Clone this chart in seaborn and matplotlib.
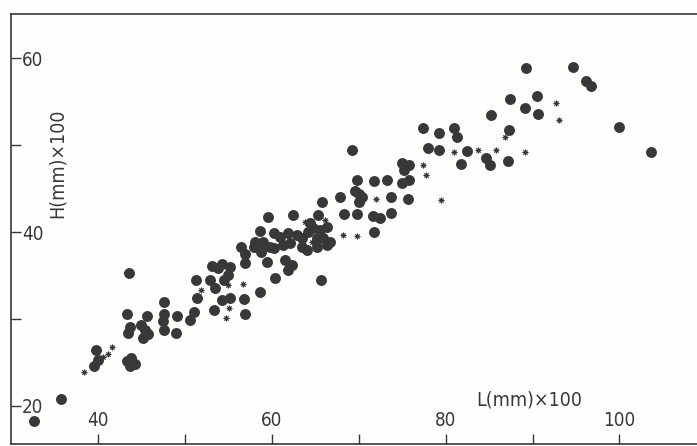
import matplotlib
matplotlib.use("Agg")
import matplotlib.pyplot as plt
import seaborn as sns
import pandas as pd

# Shell length L and height H (both in mm x 100), large filled dots
L_dot = [32.6, 35.7, 39.8, 40.0, 39.5, 43.4, 43.8, 44.3, 43.7, 43.6,
         43.3, 43.7, 43.5, 44.9, 45.7, 45.4, 45.8, 45.2, 47.6, 47.6,
         47.5, 47.6, 49.1, 49.0, 50.6, 51.1, 51.3, 51.4, 52.9, 53.1,
         53.5, 53.3, 54.3, 53.8, 55.2, 54.5, 55.0, 54.3, 55.2, 56.5,
         56.9, 56.9, 56.8, 56.9, 57.9, 58.8, 59.0, 59.8, 59.5, 58.7,
         60.4, 58.7, 59.6, 60.2, 61.0, 61.9, 58.1, 59.0, 60.2, 61.3,
         62.1, 61.5, 62.3, 61.9, 62.4, 62.9, 63.5, 63.5, 64.1, 64.2,
         64.7, 65.6, 66.4, 65.2, 65.9, 66.7, 65.2, 66.4, 64.4, 65.3,
         65.8, 67.9, 65.7, 68.3, 69.8, 69.2, 69.8, 69.6, 70.0, 70.4,
         70.0, 71.8, 73.3, 73.7, 71.6, 72.5, 73.7, 71.8, 75.0, 75.8,
         75.2, 75.0, 75.8, 75.7, 77.4, 79.2, 81.0, 81.3, 78.0, 79.2,
         82.4, 81.8, 84.7, 85.1, 87.2, 85.2, 87.3, 87.4, 89.1, 90.5,
         90.6, 89.2, 94.6, 96.1, 96.7, 99.9, 103.6]
H_dot = [18.3, 20.8, 26.4, 25.3, 24.6, 25.1, 25.5, 24.8, 24.6, 35.3,
         30.6, 29.1, 28.4, 29.3, 30.3, 28.7, 28.3, 27.8, 32.0, 30.6,
         29.8, 28.7, 30.3, 28.4, 29.9, 30.8, 34.5, 32.4, 34.5, 36.1,
         33.6, 31.0, 36.3, 35.9, 36.0, 34.5, 35.1, 32.2, 32.4, 38.3,
         37.5, 36.4, 32.3, 30.6, 38.3, 37.7, 38.5, 38.3, 36.6, 33.1,
         34.7, 40.1, 41.7, 39.9, 39.4, 39.9, 38.9, 38.9, 38.2, 38.5,
         38.7, 36.8, 36.2, 35.6, 42.0, 39.7, 39.3, 38.3, 37.9, 40.0,
         40.5, 40.2, 40.6, 39.3, 39.3, 38.9, 38.3, 38.5, 41.0, 42.0,
         43.5, 44.0, 34.5, 42.1, 42.1, 49.5, 46.0, 44.7, 44.4, 44.0,
         43.5, 45.9, 46.0, 44.0, 41.8, 41.6, 42.2, 40.0, 47.9, 47.7,
         47.1, 45.6, 46.0, 43.8, 52.0, 51.4, 52.0, 50.9, 49.7, 49.4,
         49.3, 47.8, 48.5, 47.7, 48.2, 53.5, 51.8, 55.3, 54.3, 55.7,
         53.6, 58.9, 59.0, 57.4, 56.8, 52.1, 49.2]

# Second group, small star marks
L_star = [38.4, 40.6, 41.2, 41.6, 51.8, 55.0, 55.1, 54.7, 56.7, 63.8,
          66.1, 64.6, 68.2, 69.8, 72.0, 77.4, 77.7, 79.5, 81.0, 83.7,
          85.8, 86.8, 89.1, 92.7, 93.0]
H_star = [23.9, 25.6, 26.0, 26.8, 33.3, 33.9, 31.3, 30.1, 34.0, 41.2,
          41.4, 38.9, 39.7, 39.5, 43.8, 47.7, 46.6, 43.7, 49.2, 49.5,
          49.4, 50.9, 49.2, 54.9, 52.9]

x_ticks = [40, 50, 60, 70, 80, 90, 100]
x_tick_labels = ["40", "", "60", "", "80", "", "100"]
y_ticks = [20, 30, 40, 50, 60]
y_tick_labels = ["20", "", "40", "", "60"]

df = pd.concat([
    pd.DataFrame({"L": L_dot, "H": H_dot, "group": "dot"}),
    pd.DataFrame({"L": L_star, "H": H_star, "group": "star"}),
], ignore_index=True)

sns.set_style("white")
plt.rcParams["font.family"] = ["DejaVu Sans"]
plt.rcParams["font.stretch"] = "condensed"

ink = "#383838"
fig = plt.figure(figsize=(6.97, 4.46), dpi=100)
fig.patch.set_facecolor("#fefefc")
ax = fig.add_axes([0.0158, 0.0045, 0.984, 0.964])
ax.set_facecolor("#fefefc")

sns.scatterplot(data=df[df.group == "dot"], x="L", y="H", ax=ax,
                color=ink, s=62, marker="o", linewidth=0, legend=False)
sns.scatterplot(data=df[df.group == "star"], x="L", y="H", ax=ax,
                color=ink, s=30, marker=(8, 1, 0), linewidth=0, legend=False)

ax.set_xlim(30.0, 108.9)
ax.set_ylim(15.6, 65.1)

ax.set_xticks(x_ticks)
ax.set_xticklabels(x_tick_labels)
ax.set_yticks(y_ticks)
ax.set_yticklabels(y_tick_labels)
ax.tick_params(axis="x", bottom=True, direction="in", length=7, width=1.0,
               color=ink, pad=-24, labelsize=13.5, labelcolor=ink)
ax.tick_params(axis="y", left=True, direction="in", length=7, width=1.0,
               color=ink, pad=-8, labelsize=13.5, labelcolor=ink)
for lab in ax.get_yticklabels():
    lab.set_horizontalalignment("left")

ax.set_xlabel("")
ax.set_ylabel("")
ax.text(0.067, 0.653, "H(mm)×100", transform=ax.transAxes, rotation=90,
        ha="center", va="center", fontsize=14, color=ink)
ax.text(0.755, 0.102, "L(mm)×100", transform=ax.transAxes,
        ha="center", va="center", fontsize=14, color=ink)

for side in ["left", "top", "bottom"]:
    ax.spines[side].set_color(ink)
    ax.spines[side].set_linewidth(1.2)
ax.spines["right"].set_visible(False)

fig.savefig("out.png", dpi=100, facecolor=fig.get_facecolor())
